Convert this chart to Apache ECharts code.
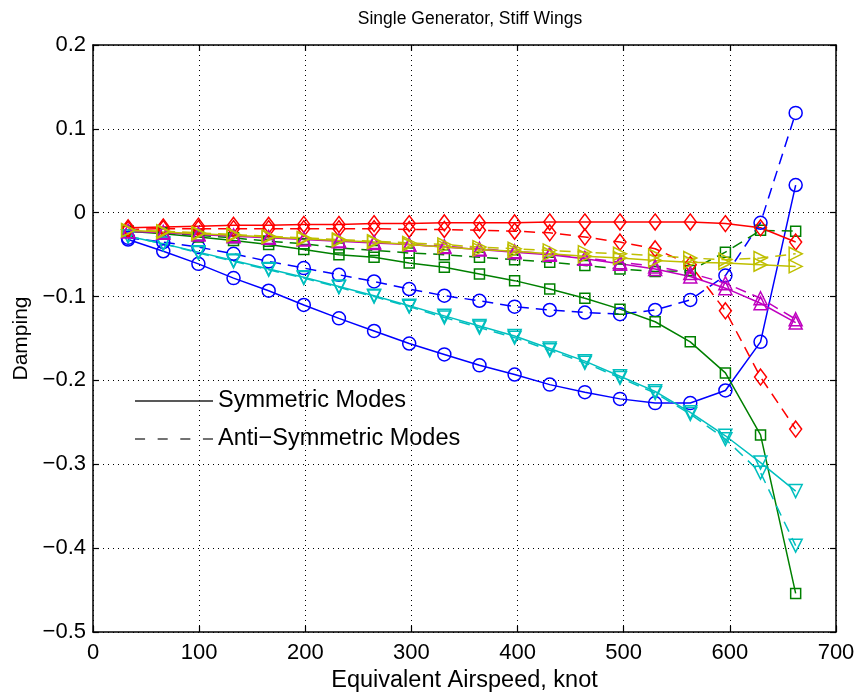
<!DOCTYPE html>
<html>
<head>
<meta charset="utf-8">
<script src="https://cdn.jsdelivr.net/npm/echarts@6/dist/echarts.min.js"></script>
<style>html,body{margin:0;padding:0;background:#fff}#c{width:860px;height:692px}</style>
</head>
<body>
<div id="c"></div>
<script>
// Airspeed samples (knot)
const airspeed = [33.1, 66.2, 99.3, 132.4, 165.5, 198.6, 231.7, 264.8, 297.9, 331, 364.1, 397.2, 430.3, 463.4, 496.5, 529.6, 562.7, 595.8, 628.9, 662];

// Blue (circles)
const blueSym  = [-0.032,-0.046,-0.061,-0.078,-0.093,-0.110,-0.126,-0.141,-0.156,-0.169,-0.182,-0.193,-0.205,-0.214,-0.222,-0.227,-0.227,-0.212,-0.154,0.033];
const blueAnti = [-0.030,-0.035,-0.041,-0.049,-0.058,-0.066,-0.074,-0.082,-0.091,-0.099,-0.105,-0.112,-0.116,-0.119,-0.121,-0.116,-0.104,-0.075,-0.012,0.119];
// Green (squares)
const greenSym  = [-0.022,-0.025,-0.029,-0.033,-0.038,-0.044,-0.050,-0.053,-0.060,-0.065,-0.073,-0.081,-0.091,-0.102,-0.115,-0.130,-0.154,-0.191,-0.265,-0.454];
const greenAnti = [-0.022,-0.024,-0.027,-0.030,-0.034,-0.037,-0.042,-0.045,-0.048,-0.050,-0.053,-0.056,-0.059,-0.063,-0.067,-0.070,-0.069,-0.047,-0.021,-0.022];
// Red (diamonds)
const redSym  = [-0.018,-0.017,-0.016,-0.015,-0.015,-0.014,-0.014,-0.013,-0.013,-0.012,-0.012,-0.012,-0.011,-0.011,-0.011,-0.011,-0.011,-0.013,-0.018,-0.035];
const redAnti = [-0.020,-0.019,-0.019,-0.019,-0.019,-0.019,-0.019,-0.019,-0.020,-0.020,-0.021,-0.022,-0.024,-0.029,-0.035,-0.043,-0.062,-0.117,-0.196,-0.258];
// Cyan (down triangles)
const cyanSym  = [-0.028,-0.037,-0.047,-0.057,-0.067,-0.077,-0.088,-0.099,-0.111,-0.123,-0.135,-0.147,-0.162,-0.177,-0.195,-0.213,-0.238,-0.266,-0.298,-0.332];
const cyanAnti = [-0.028,-0.037,-0.048,-0.058,-0.068,-0.078,-0.089,-0.100,-0.112,-0.125,-0.137,-0.149,-0.164,-0.179,-0.197,-0.215,-0.240,-0.270,-0.310,-0.397];
// Magenta (up triangles)
const magSym  = [-0.022,-0.024,-0.026,-0.028,-0.030,-0.032,-0.034,-0.036,-0.038,-0.041,-0.044,-0.047,-0.050,-0.055,-0.061,-0.067,-0.076,-0.090,-0.108,-0.131];
const magAnti = [-0.022,-0.023,-0.025,-0.027,-0.029,-0.031,-0.033,-0.035,-0.038,-0.040,-0.043,-0.046,-0.049,-0.054,-0.059,-0.064,-0.072,-0.084,-0.102,-0.127];
// Yellow (right triangles)
const yelSym  = [-0.021,-0.023,-0.025,-0.027,-0.029,-0.031,-0.033,-0.035,-0.038,-0.041,-0.044,-0.046,-0.049,-0.052,-0.054,-0.057,-0.059,-0.060,-0.062,-0.064];
const yelAnti = [-0.021,-0.022,-0.024,-0.026,-0.028,-0.030,-0.032,-0.034,-0.036,-0.038,-0.041,-0.043,-0.045,-0.047,-0.049,-0.051,-0.054,-0.056,-0.054,-0.049];

const xTicks = [0, 100, 200, 300, 400, 500, 600, 700];
const yTicks = [-0.5, -0.4, -0.3, -0.2, -0.1, 0, 0.1, 0.2];
const legendNames = ['Symmetric Modes', 'Anti\u2212Symmetric Modes'];

const FONT = 'Liberation Sans, Arial, Helvetica, sans-serif';
const DASH = [11, 7];
const LW = 1.5;

function pairs(ys) { return airspeed.map((x, i) => [x, ys[i]]); }

function mk(name, ys, color, symbol, size, rotate, dashed) {
  return {
    name: name, type: 'line', data: pairs(ys),
    symbol: symbol, symbolSize: size, symbolRotate: rotate, showSymbol: true,
    itemStyle: { color: 'rgba(0,0,0,0)', borderColor: color, borderWidth: LW },
    lineStyle: { color: color, width: LW, type: dashed ? DASH : 'solid' },
    emphasis: { disabled: true }, silent: true, z: 3
  };
}

const series = [
  mk('bS', blueSym, '#0000ff', 'circle', 13, 0, false),
  mk('bA', blueAnti, '#0000ff', 'circle', 13, 0, true),
  mk('gS', greenSym, '#008000', 'rect', 10, 0, false),
  mk('gA', greenAnti, '#008000', 'rect', 10, 0, true),
  mk('rS', redSym, '#ff0000', 'diamond', [12, 16], 0, false),
  mk('rA', redAnti, '#ff0000', 'diamond', [12, 16], 0, true),
  mk('cS', cyanSym, '#00bfbf', 'triangle', 13, 180, false),
  mk('cA', cyanAnti, '#00bfbf', 'triangle', 13, 180, true),
  mk('mS', magSym, '#bf00bf', 'triangle', 13, 0, false),
  mk('mA', magAnti, '#bf00bf', 'triangle', 13, 0, true),
  mk('yS', yelSym, '#bfbf00', 'triangle', 13, -90, false),
  mk('yA', yelAnti, '#bfbf00', 'triangle', 13, -90, true),
  { name: legendNames[0], type: 'line', data: [], symbol: 'none',
    lineStyle: { color: '#222', width: 1 }, itemStyle: { color: '#222' } },
  { name: legendNames[1], type: 'line', data: [], symbol: 'none',
    lineStyle: { color: '#444', width: 1, type: DASH }, itemStyle: { color: '#444' } }
];

const fmtY = v => { const r = Math.round(v * 10) / 10; return String(r).replace('-', '\u2212'); };

const chart = echarts.init(document.getElementById('c'), null, { renderer: 'canvas' });
chart.setOption({
  animation: false,
  backgroundColor: '#fff',
  title: { text: 'Single Generator, Stiff Wings', left: 465, top: 5, textAlign: 'center',
    textStyle: { fontFamily: FONT, fontSize: 17.5, fontWeight: 'normal', color: '#000' } },
  legend: {
    data: [
      { name: legendNames[0], icon: 'path://M0,0H78V1H0Z' },
      { name: legendNames[1], icon: 'path://M0,0H10V1H0ZM22.5,0H32.5V1H22.5ZM45,0H55V1H45ZM67.5,0H77.5V1H67.5Z' }
    ],
    orient: 'vertical', left: 130, top: 384, itemWidth: 78, itemHeight: 1.5, itemGap: 14,
    symbolKeepAspect: false,
    itemStyle: { borderWidth: 0 },
    textStyle: { fontFamily: FONT, fontSize: 23.5, color: '#000' },
    selectedMode: false
  },
  grid: { left: 93, right: 24, top: 45, bottom: 60, containLabel: false, outerBoundsMode: 'none' },
  xAxis: [
    { type: 'value', min: 0, max: 700, interval: 100, position: 'bottom',
      name: 'Equivalent Airspeed, knot', nameLocation: 'middle', nameGap: 32,
      nameTextStyle: { fontFamily: FONT, fontSize: 23.5, color: '#000' },
      axisLine: { show: true, onZero: false, lineStyle: { color: '#000', width: 1.5 } },
      axisTick: { show: true, inside: true, length: 6, lineStyle: { color: '#000', width: 1.2 } },
      axisLabel: { fontFamily: FONT, fontSize: 22, color: '#000', margin: 10,
        formatter: v => xTicks.includes(v) ? String(v) : '' },
      splitLine: { show: true, lineStyle: { color: '#000', width: 1, type: [1, 4] } } },
    { type: 'value', min: 0, max: 700, interval: 100, position: 'top',
      axisLine: { show: true, onZero: false, lineStyle: { color: '#000', width: 1.5 } },
      axisTick: { show: true, inside: true, length: 6, lineStyle: { color: '#000', width: 1.2 } },
      axisLabel: { show: false }, splitLine: { show: false } }
  ],
  yAxis: [
    { type: 'value', min: -0.5, max: 0.2, interval: 0.1, position: 'left',
      name: 'Damping', nameLocation: 'middle', nameGap: 60, nameRotate: 90,
      nameTextStyle: { fontFamily: FONT, fontSize: 21, color: '#000' },
      axisLine: { show: true, onZero: false, lineStyle: { color: '#000', width: 1.5 } },
      axisTick: { show: true, inside: true, length: 6, lineStyle: { color: '#000', width: 1.2 } },
      axisLabel: { fontFamily: FONT, fontSize: 22, color: '#000', margin: 7,
        formatter: v => yTicks.some(t => Math.abs(t - v) < 1e-9) ? fmtY(v) : '' },
      splitLine: { show: true, lineStyle: { color: '#000', width: 1, type: [1, 4] } } },
    { type: 'value', min: -0.5, max: 0.2, interval: 0.1, position: 'right',
      axisLine: { show: true, onZero: false, lineStyle: { color: '#000', width: 1.5 } },
      axisTick: { show: true, inside: true, length: 6, lineStyle: { color: '#000', width: 1.2 } },
      axisLabel: { show: false }, splitLine: { show: false } }
  ],
  series: series
});
</script>
</body>
</html>
